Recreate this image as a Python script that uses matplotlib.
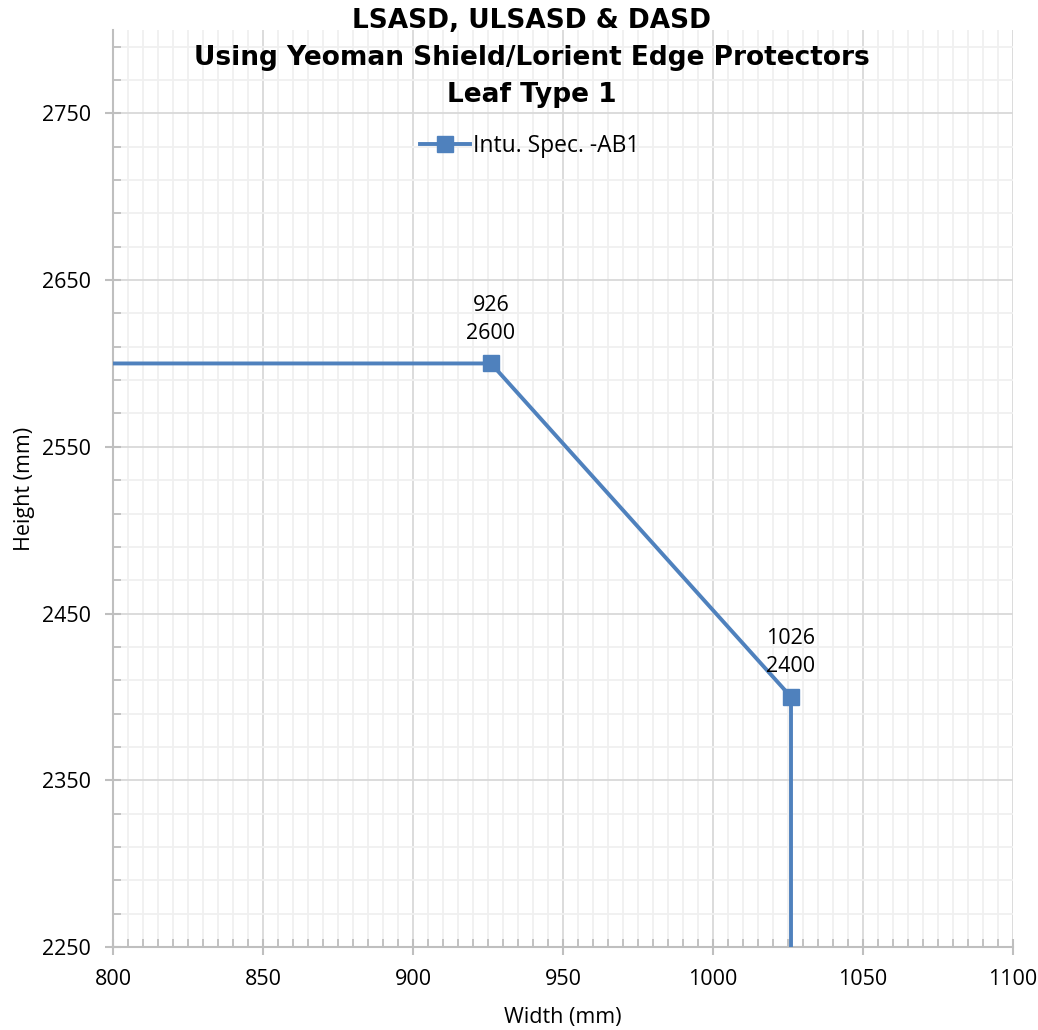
import matplotlib
matplotlib.use('Agg')
import matplotlib.pyplot as plt
import numpy as np
from matplotlib.ticker import MultipleLocator, FixedLocator

widths = [700, 926, 1026, 1026]
heights = [2600, 2600, 2400, 2000]
labelled = [1, 2]
series_name = 'Intu. Spec. -AB1'
title = 'LSASD, ULSASD & DASD\nUsing Yeoman Shield/Lorient Edge Protectors\nLeaf Type 1'

plt.rcParams['font.family'] = ['Open Sans', 'DejaVu Sans']
blue = '#4f81bd'
fs = 15.5

fig = plt.figure(figsize=(10.38, 10.30), dpi=100)
ax = fig.add_axes([113/1038, 1 - 947/1030, 900/1038, 917/1030])

ax.plot(widths, heights, color=blue, lw=2.8, marker='s', ms=11,
        markevery=labelled, label=series_name, zorder=3)
for i in labelled:
    ax.annotate('%d\n%d' % (widths[i], heights[i]), (widths[i], heights[i]),
                xytext=(0, 14), textcoords='offset points', ha='center', va='bottom',
                fontsize=fs, linespacing=1.45)

ax.set_xlim(800, 1100)
ax.set_ylim(2250, 2800)
ax.xaxis.set_major_locator(MultipleLocator(50))
ax.xaxis.set_minor_locator(MultipleLocator(5))
ax.yaxis.set_major_locator(FixedLocator([2250, 2350, 2450, 2550, 2650, 2750]))
ax.yaxis.set_minor_locator(FixedLocator(np.arange(2250, 2801, 20)))
ax.grid(which='major', color='#d9d9d9', lw=1.3)
ax.grid(which='minor', color='#f0f0f0', lw=1.3)
ax.set_axisbelow(True)

for s in ['top', 'right']:
    ax.spines[s].set_visible(False)
for s in ['left', 'bottom']:
    ax.spines[s].set_color('#bfbfbf')
    ax.spines[s].set_linewidth(1.5)
ax.tick_params(which='major', direction='inout', length=12, width=1.5, color='#bfbfbf',
               labelsize=fs, pad=10)
ax.tick_params(which='minor', direction='in', length=6, width=1.3, color='#bfbfbf')

ax.set_xlabel('Width (mm)', fontsize=fs, labelpad=12)
ax.set_ylabel('Height (mm)', fontsize=fs, labelpad=5)

fig.text(532/1038, 1 - 8/1030, title, ha='center', va='top', fontsize=19,
         fontweight='bold', family='DejaVu Sans', linespacing=1.55)

ax.legend(loc='center', bbox_to_anchor=(0.463, 0.873), frameon=False,
          fontsize=16.5, handlelength=2.2, handletextpad=0.15)

fig.savefig('out.png', dpi=100, facecolor='white')
